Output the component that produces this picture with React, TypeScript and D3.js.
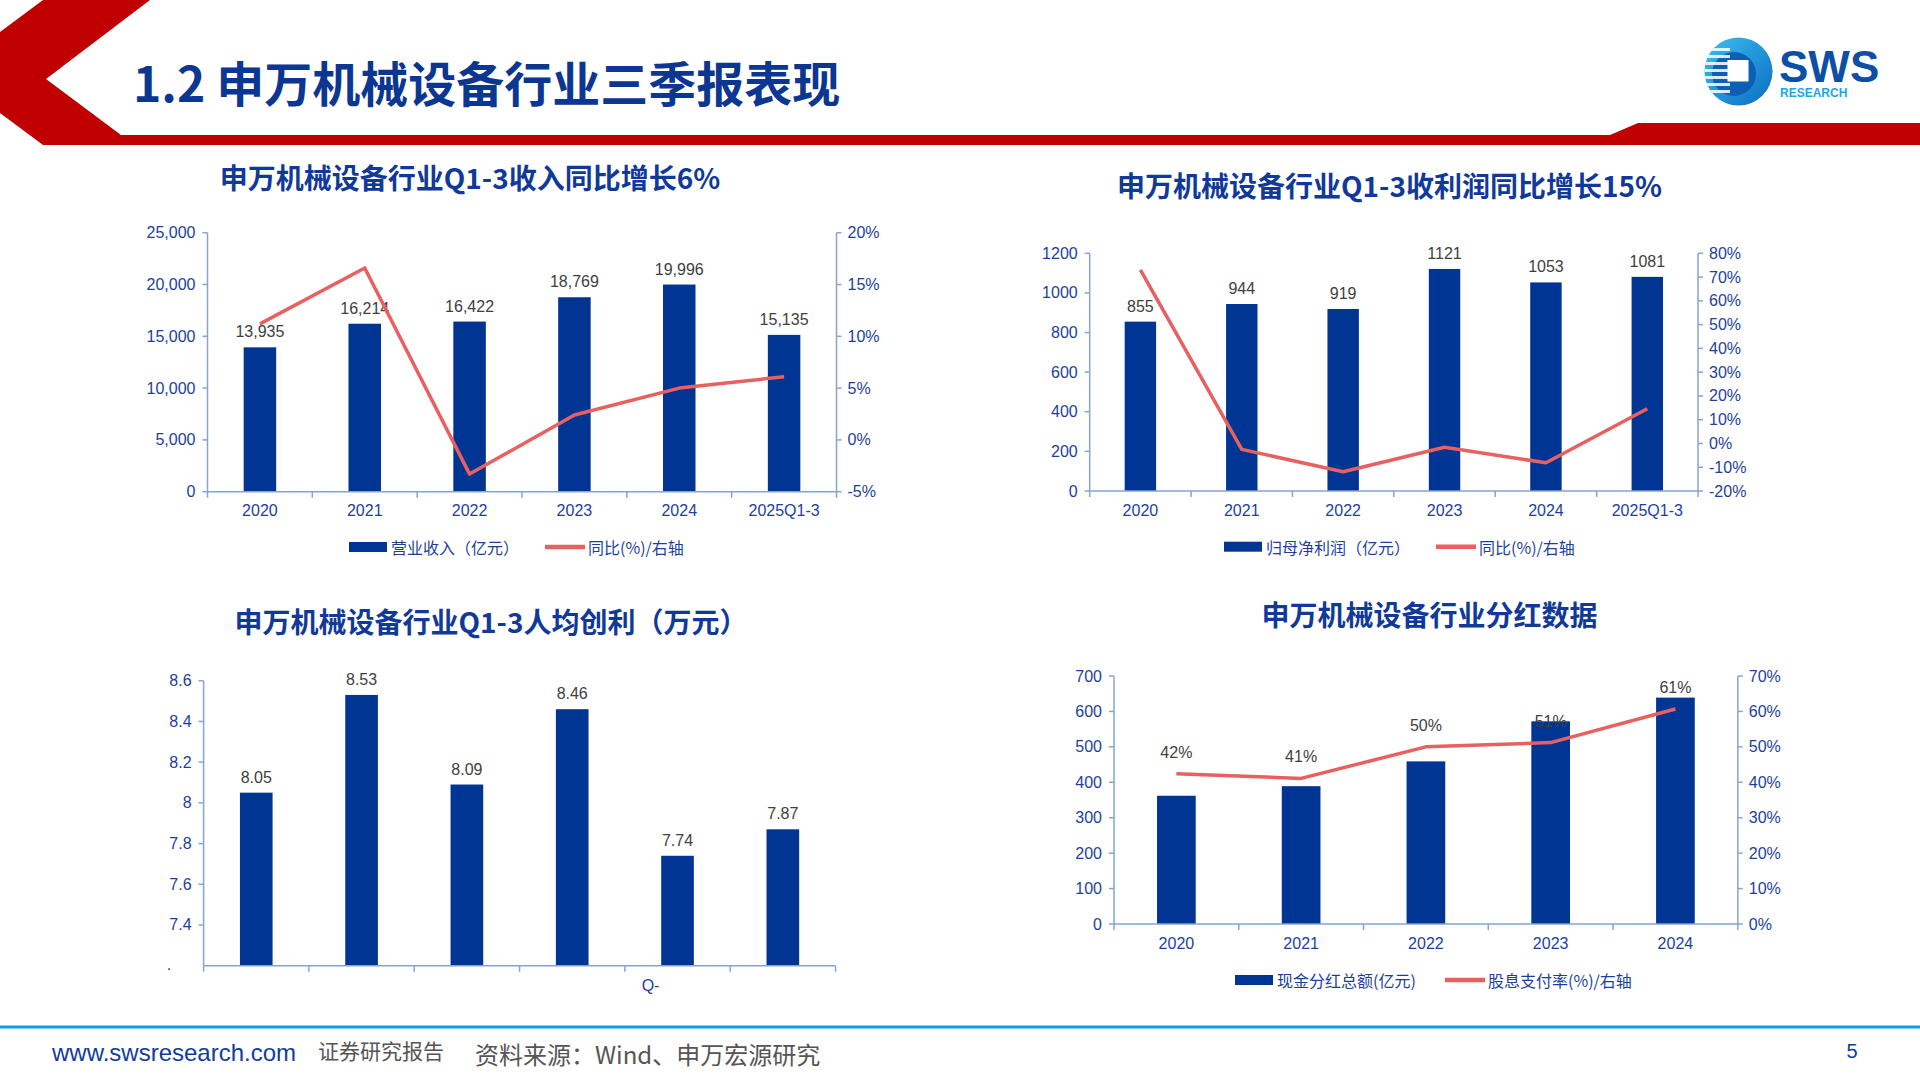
import React from 'react';
import * as d3 from 'd3';

// chart values
const years = ['2020', '2021', '2022', '2023', '2024', '2025Q1-3'];
const revenue = [13935, 16214, 16422, 18769, 19996, 15135];
const revenueYoy = [11.2, 16.6, -3.3, 2.4, 5.0, 6.1];
const revenueTicks = [0, 5000, 10000, 15000, 20000, 25000];
const revenueYoyTicks = [-5, 0, 5, 10, 15, 20];

const profit = [855, 944, 919, 1121, 1053, 1081];
const profitYoy = [73.0, -2.5, -11.9, -1.6, -8.1, 14.6];
const profitTicks = [0, 200, 400, 600, 800, 1000, 1200];
const profitYoyTicks = [-20, -10, 0, 10, 20, 30, 40, 50, 60, 70, 80];

const perCapita = [8.05, 8.53, 8.09, 8.46, 7.74, 7.87];
const perCapitaTicks = [7.4, 7.6, 7.8, 8, 8.2, 8.4, 8.6];
const perCapitaXLabels = ['', '', '', '', 'Q-', ''];

const divYears = ['2020', '2021', '2022', '2023', '2024'];
const dividend = [362, 389, 459, 572, 639];
const payout = [42.4, 41.1, 50.0, 51.2, 60.7];
const payoutLabels = ['42%', '41%', '50%', '51%', '61%'];
const dividendTicks = [0, 100, 200, 300, 400, 500, 600, 700];
const payoutTicks = [0, 10, 20, 30, 40, 50, 60, 70];

const BAR = '#003594';
const LINE = '#e8605f';
const AXIS = '#86a3d4';
const BLUE_TXT = '#1d3f9c';
const TITLE = '#10399a';
const GRAY = '#404040';
const NUM_FONT = '"Liberation Sans", Arial, sans-serif';
const CJK_FONT = '"Noto Sans CJK SC", "Noto Sans", sans-serif';

function ComboChart(p: any) {
  const x = d3.scaleBand().domain(p.categories).range([p.left, p.right]).padding(0);
  const y = d3.scaleLinear().domain(p.barDomain).range([p.bottom, p.top]);
  const y2 = p.lineDomain ? d3.scaleLinear().domain(p.lineDomain).range([p.bottom, p.top]) : null;
  const bw = x.bandwidth() * 0.31;
  const cx = (c: string) => (x(c) as number) + x.bandwidth() / 2;
  const bounds = p.categories.map((c: string) => x(c) as number).concat([p.right]);

  const linePath = y2
    ? d3.line<number>().x((d, i) => cx(p.categories[i])).y(d => y2(d))(p.line)
    : null;

  return (
    <g>
      <text x={p.titleX} y={p.titleY} textAnchor="middle" dominantBaseline="central"
        fontFamily={CJK_FONT} fontWeight={700} fontSize={28} fill={TITLE}>{p.title}</text>

      {/* bars */}
      {p.bars.map((v: number, i: number) => (
        <rect key={i} x={cx(p.categories[i]) - bw / 2} y={y(v)} width={bw}
          height={p.bottom - y(v)} fill={BAR} />
      ))}
      {p.barLabels && p.bars.map((v: number, i: number) => (
        <text key={'bl' + i} x={cx(p.categories[i])} y={y(v) - 10} textAnchor="middle"
          fontFamily={NUM_FONT} fontSize={16} fill={GRAY}>{p.barLabels(v)}</text>
      ))}

      {/* left axis */}
      <line x1={p.left} x2={p.left} y1={p.top} y2={p.bottom} stroke={AXIS} strokeWidth={1.5} />
      {p.barTicks.map((t: number) => (
        <g key={'lt' + t}>
          <line x1={p.left - 5} x2={p.left} y1={y(t)} y2={y(t)} stroke={AXIS} strokeWidth={1.5} />
          <text x={p.left - 12} y={y(t)} textAnchor="end" dominantBaseline="central"
            fontFamily={NUM_FONT} fontSize={16} fill={BLUE_TXT}>{p.barFmt(t)}</text>
        </g>
      ))}

      {/* right axis */}
      {y2 && (
        <g>
          <line x1={p.right} x2={p.right} y1={p.top} y2={p.bottom} stroke={AXIS} strokeWidth={1.5} />
          {p.lineTicks.map((t: number) => (
            <g key={'rt' + t}>
              <line x1={p.right} x2={p.right + 5} y1={y2(t)} y2={y2(t)} stroke={AXIS} strokeWidth={1.5} />
              <text x={p.right + 11} y={y2(t)} dominantBaseline="central"
                fontFamily={NUM_FONT} fontSize={16} fill={BLUE_TXT}>{t}%</text>
            </g>
          ))}
        </g>
      )}

      {/* x axis */}
      <line x1={p.left} x2={p.right} y1={p.bottom} y2={p.bottom} stroke={AXIS} strokeWidth={1.5} />
      {bounds.map((b: number, i: number) => (
        <line key={'xt' + i} x1={b} x2={b} y1={p.bottom} y2={p.bottom + 6} stroke={AXIS} strokeWidth={1.5} />
      ))}
      {p.xLabels.map((c: string, i: number) => (
        <text key={'xl' + i} x={cx(p.categories[i]) + (p.xLabelShift || 0)} y={p.xLabelY}
          textAnchor="middle" dominantBaseline="central"
          fontFamily={NUM_FONT} fontSize={16} fill={BLUE_TXT}>{c}</text>
      ))}

      {/* line series */}
      {linePath && <path d={linePath} fill="none" stroke={LINE} strokeWidth={3.5} strokeLinejoin="round" />}
      {y2 && p.lineLabels && p.line.map((v: number, i: number) => (
        <text key={'ll' + i} x={cx(p.categories[i])} y={y2(v) - 16} textAnchor="middle"
          fontFamily={NUM_FONT} fontSize={16} fill={GRAY}>{p.lineLabels[i]}</text>
      ))}

      {/* legend */}
      {p.legend && p.legend.map((it: any, i: number) => (
        <g key={'lg' + i}>
          {it.type === 'bar'
            ? <rect x={it.x} y={p.legendY - 5} width={38} height={10} fill={BAR} />
            : <line x1={it.x} x2={it.x + 40} y1={p.legendY} y2={p.legendY} stroke={LINE} strokeWidth={4.5} />}
          <text x={it.x + (it.type === 'bar' ? 42 : 43)} y={p.legendY} dominantBaseline="central"
            fontFamily={CJK_FONT} fontSize={16} fill={BLUE_TXT}>{it.label}</text>
        </g>
      ))}
    </g>
  );
}

function Logo() {
  return (
    <g>
      <defs>
        <linearGradient id="logoGrad" x1="0" y1="0" x2="1" y2="1">
          <stop offset="0" stopColor="#3cc0f0" />
          <stop offset="1" stopColor="#0a6cc0" />
        </linearGradient>
        <clipPath id="logoClip">
          <circle cx={1738.5} cy={71.5} r={34} />
        </clipPath>
      </defs>
      <circle cx={1738.5} cy={71.5} r={34} fill="url(#logoGrad)" />
      <circle cx={1734} cy={74} r={22} fill="#0d5fb3" clipPath="url(#logoClip)" />
      {[48, 55, 62, 69, 76, 83, 90].map(s => (
        <rect key={s} x={1702} y={s} width={28} height={3} fill="#ffffff" opacity={0.85} clipPath="url(#logoClip)" />
      ))}
      <rect x={1727.5} y={60} width={21} height={21.5} fill="#ffffff" />
      <text x={1779} y={82} fontFamily={NUM_FONT} fontWeight={700} fontSize={44} fill="#0d4ea6">SWS</text>
      <text x={1780} y={97} fontFamily={NUM_FONT} fontWeight={700} fontSize={12} fill="#1aa7e6">RESEARCH</text>
    </g>
  );
}

export default function App() {
  return (
    <div style={{ position: 'absolute', left: 0, top: 0 }}>
      <svg width={1920} height={1080} style={{ display: 'block', background: '#ffffff' }}>
        {/* header */}
        <polygon
          points="43,0 150,0 46,79 121,135 1610,135 1638,123 1920,123 1920,145 43,145 0,113 0,32"
          fill="#c00000" />
        <text x={133} y={81} dominantBaseline="central" fontFamily={CJK_FONT} fontWeight={700}
          fontSize={48} fill="#0b3692">1.2 申万机械设备行业三季报表现</text>
        <Logo />

        <ComboChart
          title="申万机械设备行业Q1-3收入同比增长6%" titleX={470} titleY={177}
          categories={years} xLabels={years} bars={revenue} line={revenueYoy}
          left={207.5} right={836.5} top={232.7} bottom={491.7}
          barDomain={[0, 25000]} barTicks={revenueTicks} barFmt={d3.format(',')}
          lineDomain={[-5, 20]} lineTicks={revenueYoyTicks}
          barLabels={d3.format(',')} xLabelY={510.7} legendY={547}
          legend={[{ type: 'bar', x: 349, label: '营业收入（亿元）' }, { type: 'line', x: 545, label: '同比(%)/右轴' }]}
        />

        <ComboChart
          title="申万机械设备行业Q1-3收利润同比增长15%" titleX={1389.5} titleY={185}
          categories={years} xLabels={years} bars={profit} line={profitYoy}
          left={1089.7} right={1698} top={253.3} bottom={491}
          barDomain={[0, 1200]} barTicks={profitTicks} barFmt={(d: number) => String(d)}
          lineDomain={[-20, 80]} lineTicks={profitYoyTicks}
          barLabels={(d: number) => String(d)} xLabelY={510} legendY={546.7}
          legend={[{ type: 'bar', x: 1224, label: '归母净利润（亿元）' }, { type: 'line', x: 1436, label: '同比(%)/右轴' }]}
        />

        <ComboChart
          title="申万机械设备行业Q1-3人均创利（万元）" titleX={491} titleY={620.5}
          categories={years} xLabels={perCapitaXLabels} xLabelShift={-27} bars={perCapita}
          left={203.6} right={835.5} top={680.7} bottom={965.7}
          barDomain={[7.2, 8.6]} barTicks={perCapitaTicks} barFmt={(d: number) => String(d)}
          barLabels={(d: number) => d.toFixed(2)} xLabelY={985}
        />
        <text x={169} y={970} textAnchor="middle" fontFamily={NUM_FONT} fontSize={16} fill={BLUE_TXT}>.</text>

        <ComboChart
          title="申万机械设备行业分红数据" titleX={1429.5} titleY={614}
          categories={divYears} xLabels={divYears} bars={dividend} line={payout}
          left={1114} right={1737.8} top={676} bottom={924}
          barDomain={[0, 700]} barTicks={dividendTicks} barFmt={(d: number) => String(d)}
          lineDomain={[0, 70]} lineTicks={payoutTicks} lineLabels={payoutLabels}
          xLabelY={943.3} legendY={980}
          legend={[{ type: 'bar', x: 1235, label: '现金分红总额(亿元)' }, { type: 'line', x: 1445, label: '股息支付率(%)/右轴' }]}
        />

        {/* footer */}
        <rect x={0} y={1025.5} width={1920} height={3} fill="#0aa0e2" />
        <text x={52} y={1052} dominantBaseline="central" fontFamily={NUM_FONT} fontSize={24} fill="#123c9c">www.swsresearch.com</text>
        <text x={318} y={1050} dominantBaseline="central" fontFamily={CJK_FONT} fontSize={21} fill="#555555">证券研究报告</text>
        <text x={475} y={1053} dominantBaseline="central" fontFamily={CJK_FONT} fontSize={24} fill="#555555">资料来源：Wind、申万宏源研究</text>
        <text x={1852} y={1051} textAnchor="middle" dominantBaseline="central" fontFamily={NUM_FONT} fontSize={20} fill="#123c9c">5</text>
      </svg>
    </div>
  );
}
